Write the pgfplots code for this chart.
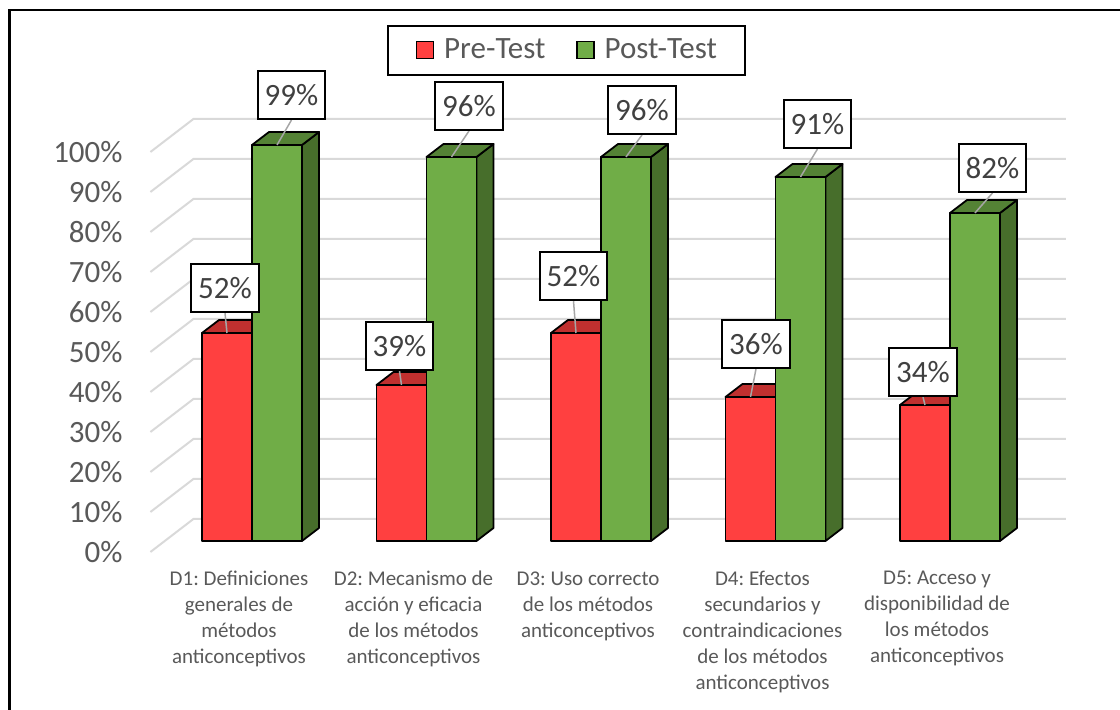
\documentclass[border=0pt]{standalone}
\usepackage{pgfplots}
\pgfplotsset{compat=1.18}
\usepackage{pgfplotstable}
\usepackage{fontspec}
\setmainfont{Carlito}
\frenchspacing
\definecolor{redF}{HTML}{FF4040}
\definecolor{redT}{HTML}{C0302F}
\definecolor{redS}{HTML}{A02828}
\definecolor{grnF}{HTML}{70AD47}
\definecolor{grnT}{HTML}{548235}
\definecolor{grnS}{HTML}{476E2B}
\definecolor{gridc}{HTML}{D9D9D9}
\definecolor{txt}{HTML}{595959}
\definecolor{lbl}{HTML}{404040}
\definecolor{lead}{HTML}{A6A6A6}

\pgfplotstableread{
x v
1 52
2 39
3 52
4 36
5 34
}\pretab
\pgfplotstableread{
x v
1 99
2 96
3 96
4 91
5 82
}\posttab

\tikzset{
  ldx/.initial=0, ldy/.initial=0, lbase/.initial=0,
  barline/.style={draw=black, line width=0.9pt, line join=round},
  lblbox/.style={draw=black, line width=0.85pt, fill=white, text=lbl,
    font=\fontsize{15.5}{18}\selectfont, inner xsep=3.5pt, inner ysep=0pt,
    minimum height=24pt},
}

\pgfdeclareplotmark{barPre}{%
  \pgfmathsetlengthmacro\hh{\bval*2pt}%
  \filldraw[barline, fill=redS] (0pt,0pt) -- (0pt,-\hh) -- (8.5pt,6.5pt-\hh) -- (8.5pt,6.5pt) -- cycle;
  \filldraw[barline, fill=redF] (-25pt,-\hh) rectangle (0pt,0pt);
  \filldraw[barline, fill=redT] (-25pt,0pt) -- (0pt,0pt) -- (8.5pt,6.5pt) -- (-16.5pt,6.5pt) -- cycle;
}
\pgfdeclareplotmark{barPost}{%
  \pgfmathsetlengthmacro\hh{\bval*2pt}%
  \filldraw[barline, fill=grnS] (25pt,0pt) -- (25pt,-\hh) -- (33.5pt,6.5pt-\hh) -- (33.5pt,6.5pt) -- cycle;
  \filldraw[barline, fill=grnF] (0pt,-\hh) rectangle (25pt,0pt);
  \filldraw[barline, fill=grnT] (0pt,0pt) -- (25pt,0pt) -- (33.5pt,6.5pt) -- (8.5pt,6.5pt) -- cycle;
}
\pgfdeclareplotmark{leader}{%
  \draw[lead, line width=0.75pt] ({(\pgfkeysvalueof{/tikz/lbase})*1pt},0pt) --
    ({(\pgfkeysvalueof{/tikz/ldx})*1pt},{(\pgfkeysvalueof{/tikz/ldy})*1pt});
}

\pgfplotsset{
  barsty/.style={forget plot, only marks, scatter, point meta=y,
    scatter/@pre marker code/.code={\edef\bval{\pgfplotspointmetatransformed}},
    scatter/@post marker code/.code={}},
  % #1 category (x), #2 centre of bar (pt), #3 dx (px), #4 dy (px)
  lblsty/.style n args={4}{forget plot, only marks, mark=leader,
    mark options={lbase=#2, ldx={#2+0.5*(#3)}, ldy={0.5*(#4)}},
    restrict x to domain=#1:#1,
    point meta=y,
    nodes near coords={\pgfmathprintnumber[assume math mode=true]{\pgfplotspointmeta}\%},
    every node near coord/.append style={lblbox, anchor=south,
      xshift={(#2+0.5*(#3))*1pt}, yshift={0.5*(#4)*1pt}}},
}

\begin{document}
\begin{tikzpicture}
\begin{axis}[
  at={(0,0)}, anchor=south west,
  scale only axis, width=436.25pt, height=200pt,
  xmin=0.5, xmax=5.5, ymin=0, ymax=100,
  point meta min=0, point meta max=1000,
  clip=false,
  axis line style={draw=none},
  tick style={draw=none}, major tick length=0pt,
  xtick={1,2,3,4,5},
  xticklabels={
    {D1: Definiciones\\generales de\\métodos\\anticonceptivos},
    {D2: Mecanismo de\\acción y eficacia\\de los métodos\\anticonceptivos},
    {D3: Uso correcto\\de los métodos\\anticonceptivos},
    {D4: Efectos\\secundarios y\\contraindicaciones\\de los métodos\\anticonceptivos},
    {D5: Acceso y\\disponibilidad de\\los métodos\\anticonceptivos}},
  xticklabel style={align=center, font=\fontsize{10.5}{13}\selectfont, text=txt,
    anchor=north, inner sep=0pt, xshift=-6.5pt, yshift=-15pt},
  ytick={0,10,20,30,40,50,60,70,80,90,100},
  yticklabels={0\%,10\%,20\%,30\%,40\%,50\%,60\%,70\%,80\%,90\%,100\%},
  yticklabel style={font=\fontsize{15.5}{18}\selectfont, text=txt,
    anchor=east, inner sep=0pt, xshift=-20.9pt, yshift=-5.5pt},
  legend columns=2,
  legend cell align=left,
  legend image code/.code={\draw[#1, draw=black, line width=0.6pt] (0pt,-4.25pt) rectangle (8.5pt,4.25pt);},
  legend style={at={(0.4605,1.29)}, anchor=north, draw=black, line width=0.85pt, fill=white,
    font=\fontsize{15.5}{18}\selectfont, text=txt, inner xsep=14pt, inner ysep=6.5pt,
    nodes={inner sep=0pt},
    /tikz/every odd column/.append style={column sep=5pt},
    /tikz/every even column/.append style={column sep=15.5pt}},
]
% side and back wall gridlines
\pgfplotsinvokeforeach{0,10,20,30,40,50,60,70,80,90,100}{
  \draw[gridc, line width=1pt] (axis cs:0.4179,{#1-2.75}) -- (axis cs:0.6643,{#1+5.5}) -- (axis cs:5.6643,{#1+5.5});
}
% 3-D bars
\addplot[barsty, mark=barPre] table[x=x, y=v] {\pretab};
\addplot[barsty, mark=barPost] table[x=x, y=v] {\posttab};
% data labels (category, bar centre, dx, dy)
\addplot[lblsty={1}{-12.5}{-2}{20}] table[x=x, y=v] {\pretab};
\addplot[lblsty={2}{-12.5}{-2}{14}] table[x=x, y=v] {\pretab};
\addplot[lblsty={3}{-12.5}{-2.5}{32}] table[x=x, y=v] {\pretab};
\addplot[lblsty={4}{-12.5}{5.5}{28}] table[x=x, y=v] {\pretab};
\addplot[lblsty={5}{-12.5}{-2}{8}] table[x=x, y=v] {\pretab};
\addplot[lblsty={1}{12.5}{14.5}{25}] table[x=x, y=v] {\posttab};
\addplot[lblsty={2}{12.5}{17.5}{26}] table[x=x, y=v] {\posttab};
\addplot[lblsty={3}{12.5}{16}{22}] table[x=x, y=v] {\posttab};
\addplot[lblsty={4}{12.5}{17}{28}] table[x=x, y=v] {\posttab};
\addplot[lblsty={5}{12.5}{17.5}{20}] table[x=x, y=v] {\posttab};
\addlegendimage{fill=redF}
\addlegendentry{Pre-Test}
\addlegendimage{fill=grnF}
\addlegendentry{Post-Test}
\end{axis}
\draw[line width=1.3pt] (-77.6pt,-84.5pt) -- (-77.6pt,265.5pt) -- (477.625pt,265.5pt);
\pgfresetboundingbox
\path[use as bounding box] (-82.375pt,-84.5pt) rectangle (477.625pt,270.5pt);
\end{tikzpicture}
\end{document}
